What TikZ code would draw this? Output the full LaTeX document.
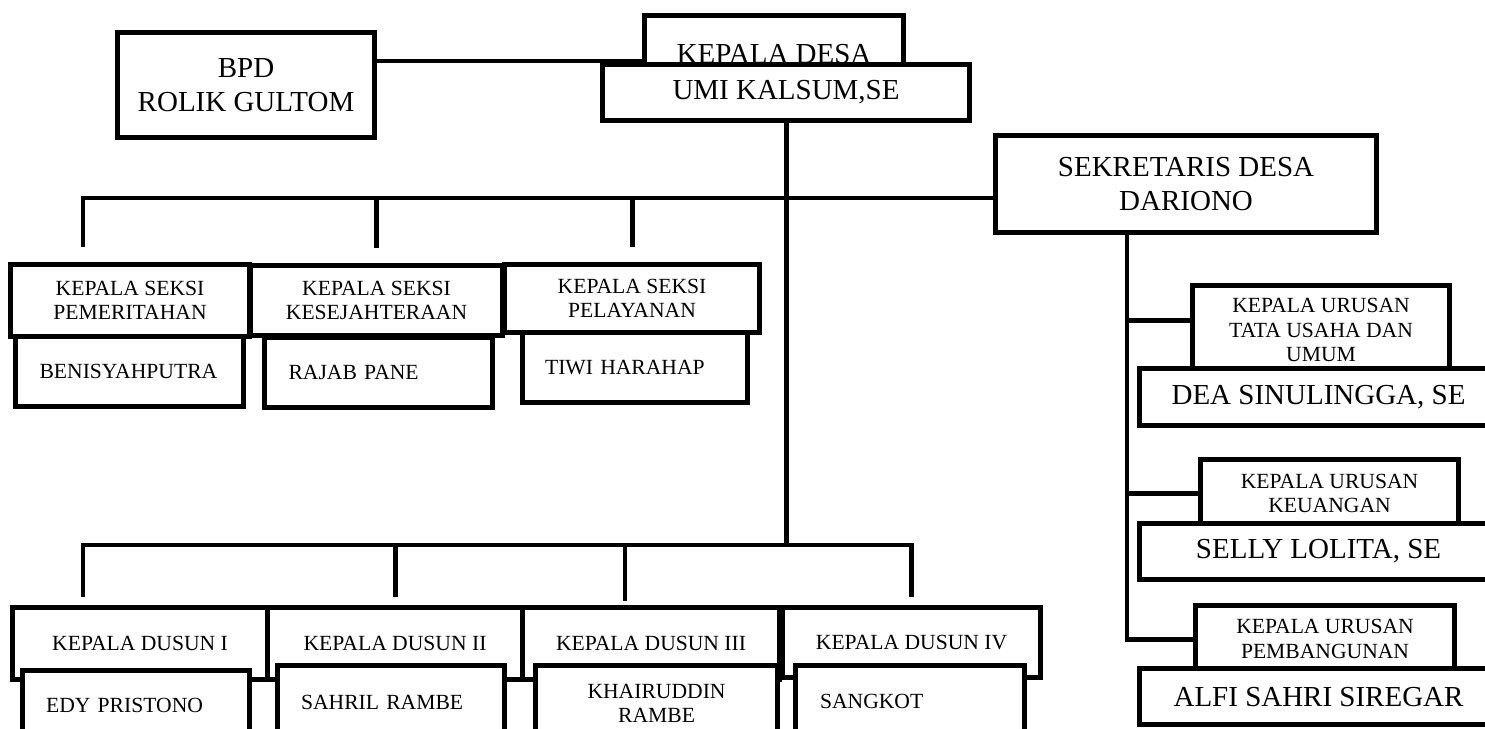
\documentclass[tikz,border=0pt]{standalone}
\usepackage{fontspec}
\setmainfont{Liberation Serif}
\tikzset{
	box/.style={draw, fill=white, line width=2.9pt, inner sep=0pt, anchor=north west, align=center},
	pbox/.style 2 args={minimum width=#1*0.02cm, minimum height=#2*0.02cm},
	small/.style={font=\fontsize{12.3}{13.9}\selectfont},
	big/.style={font=\fontsize{16.5}{19}\selectfont},
	namebox/.style={box, small, text width=3.6cm, align=left},
	link/.style={line width=2.8pt}
}

\begin{document}
\begin{tikzpicture}[x=0.02cm, y=-0.02cm]
	\useasboundingbox (0,0) rectangle (1485,729);

	% kepala desa dan bpd
	\node[box, big, pbox={257}{105}] (bpd) at (115,30) {BPD\\ROLIK GULTOM};
	\node[box, big, pbox={259}{78}] (kades) at (642,13) {KEPALA DESA};
	\node[box, big, pbox={367}{56}] (umi) at (600,62) {UMI KALSUM,SE};
	\node[box, big, pbox={381}{97}] (sekdes) at (993,133) {SEKRETARIS DESA\\DARIONO};

	% kepala seksi
	\node[box, small, pbox={239}{72}] (sPem) at (8,262) {KEPALA SEKSI\\PEMERITAHAN};
	\node[namebox, pbox={228}{70}] (nBeni) at (13,334) {BENISYAHPUTRA};
	\node[box, small, pbox={252}{70}] (sKes) at (248,263) {KEPALA SEKSI\\KESEJAHTERAAN};
	\node[namebox, pbox={228}{70}] (nRajab) at (262,335) {RAJAB PANE};
	\node[box, small, pbox={255}{68}] (sPel) at (502,262) {KEPALA SEKSI\\PELAYANAN};
	\node[namebox, pbox={225}{70}] (nTiwi) at (520,330) {TIWI HARAHAP};

	% kepala dusun
	\node[box, small, pbox={255}{72}] (d1) at (10,605) {KEPALA DUSUN I};
	\node[namebox, pbox={227}{70}] (nEdy) at (20,668) {EDY PRISTONO};
	\node[box, small, pbox={255}{72}] (d2) at (265,605) {KEPALA DUSUN II};
	\node[namebox, pbox={227}{74}] (nSahril) at (275,663) {SAHRIL RAMBE};
	\node[box, small, pbox={257}{72}] (d3) at (520,605) {KEPALA DUSUN III};
	\node[box, small, pbox={242}{76}] (nKhair) at (533,663) {KHAIRUDDIN\\RAMBE};
	\node[box, small, pbox={258}{70}] (d4) at (780,605) {KEPALA DUSUN IV};
	\node[namebox, pbox={229}{72}] (nSangkot) at (793,663) {SANGKOT};

	% kepala urusan
	\node[box, small, pbox={257}{89}] (uTata) at (1190,283) {KEPALA URUSAN\\TATA USAHA DAN\\UMUM};
	\node[box, big, pbox={358}{57}] (nDea) at (1137,366) {DEA SINULINGGA, SE};
	\node[box, small, pbox={258}{68}] (uKeu) at (1198,457) {KEPALA URUSAN\\KEUANGAN};
	\node[box, big, pbox={358}{56}] (nSelly) at (1137,521) {SELLY LOLITA, SE};
	\node[box, small, pbox={259}{67}] (uPemb) at (1193,603) {KEPALA URUSAN\\PEMBANGUNAN};
	\node[box, big, pbox={358}{56}] (nAlfi) at (1137,666) {ALFI SAHRI SIREGAR};

	% garis
	\coordinate (bline) at (0,61);
	\coordinate (up) at (0,198);
	\coordinate (dn) at (0,545);
	\draw[link] (bpd.east |- bline) -- (kades.west |- bline);
	\draw[link] (umi.south) -- (umi.south |- dn);
	\draw[link] ([xshift=1.5cm, yshift=0.3cm]sPem.north west) |- (sekdes.west |- up);
	\draw[link] ([yshift=0.3cm]sKes.north) -- (sKes.north |- up);
	\draw[link] ([yshift=0.3cm]sPel.north) -- (sPel.north |- up);

	\draw[link] ([xshift=1.46cm, yshift=0.16cm]d1.north west) |- (umi.south |- dn) -| ([yshift=0.16cm]d4.north);
	\draw[link] ([yshift=0.16cm]d2.north) -- (d2.north |- dn);
	\coordinate (d3in) at ([xshift=2.1cm, yshift=0.08cm]d3.north west);
	\draw[link] (d3in) -- (d3in |- dn);

	\coordinate (sk) at ([xshift=2.68cm]sekdes.south west);
	\coordinate (tt) at ([yshift=0.2cm]uTata.west);
	\draw[link] (sk) |- (uPemb.west);
	\draw[link] (sk |- uKeu.west) -- (uKeu.west);
	\draw[link] (sk |- tt) -- (tt);
\end{tikzpicture}
\end{document}
